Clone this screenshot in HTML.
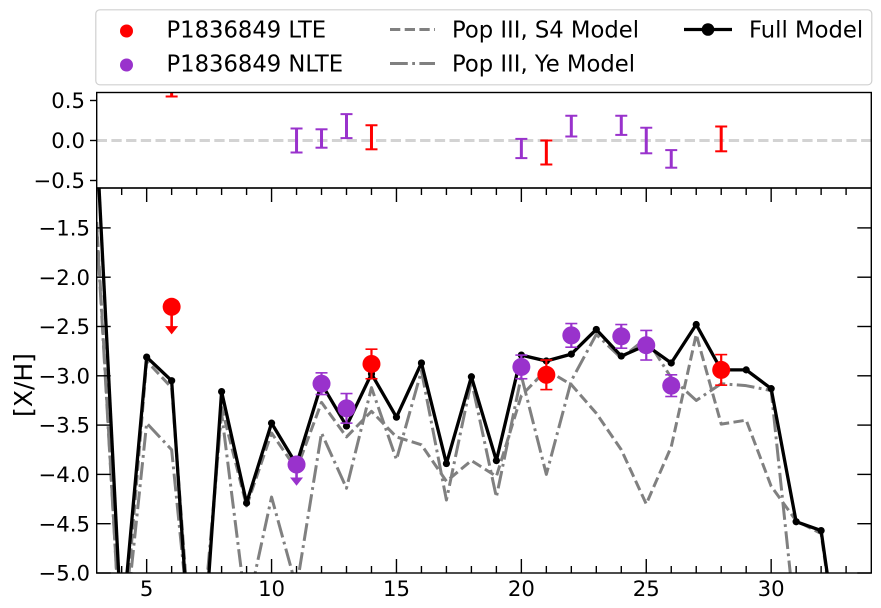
<!DOCTYPE html>
<html lang="en">
<head>
<meta charset="utf-8">
<title>P1836849 abundances</title>
<style>
html,body{margin:0;padding:0;background:#fff;}
html,body{width:881px;height:608px;overflow:hidden;}
svg{display:block;font-family:"DejaVu Sans","Liberation Sans",sans-serif;}
</style>
</head>
<body>
<svg id="chart" xmlns="http://www.w3.org/2000/svg" width="881" height="608" viewBox="0 0 881 608">
  <defs>
    <clipPath id="clip-main"><rect x="96.7" y="188" width="774.6" height="385"/></clipPath>
    <clipPath id="clip-top"><rect x="96.7" y="92.5" width="774.6" height="95.5"/></clipPath>
  </defs>
  <rect x="0" y="0" width="881" height="608" fill="#fff"/>
  <g id="main-marks" clip-path="url(#clip-main)"></g>
  <g id="main-ticks"></g>
  <g id="top-marks" clip-path="url(#clip-top)"></g>
  <g id="top-ticks"></g>
  <rect x="96.7" y="92.5" width="774.6" height="95.5" fill="none" stroke="#000" stroke-width="1.4"/>
  <rect x="96.7" y="188" width="774.6" height="385" fill="none" stroke="#000" stroke-width="1.4"/>
  <text x="32" y="385" font-size="25" text-anchor="middle" transform="rotate(-90 32 385)">[X/H]</text>

  <g>
    <rect x="95.8" y="9.8" width="776" height="75" rx="4" ry="4" fill="#fff" stroke="#d0d0d0" stroke-width="1.2"/>
    <g>
      <circle cx="126.5" cy="31" r="6.5" fill="#ff0000"/>
      <text x="166.5" y="37.5" font-size="22.7">P1836849 LTE</text>
    </g>
    <g>
      <circle cx="126.5" cy="65" r="6.5" fill="#9932cc"/>
      <text x="166.5" y="71.5" font-size="22.7">P1836849 NLTE</text>
    </g>
    <g>
      <line x1="390" y1="29.5" x2="435" y2="29.5" stroke="#808080" stroke-width="3" stroke-dasharray="10.3 4.4"/>
      <text x="452" y="37.5" font-size="22.7">Pop III, S4 Model</text>
    </g>
    <g>
      <line x1="390" y1="63.5" x2="435" y2="63.5" stroke="#808080" stroke-width="3" stroke-dasharray="17.8 4.4 2.8 4.4"/>
      <text x="452" y="71.5" font-size="22.7">Pop III, Ye Model</text>
    </g>
    <g>
      <line x1="684" y1="29.5" x2="732" y2="29.5" stroke="#000" stroke-width="3.3"/>
      <circle cx="708" cy="29.5" r="6.3" fill="#000"/>
      <text x="749" y="37.5" font-size="22.7">Full Model</text>
    </g>
  </g>
</svg>

<script>
// Model series: atomic number and [X/H]
var modelZ = [3,4,5,6,7,8,9,10,11,12,13,14,15,16,17,18,19,20,21,22,23,24,25,26,27,28,29,30,31,32,33];
var fullModel = [-0.63,-5.6,-2.81,-3.05,-6.8,-3.16,-4.29,-3.48,-3.9,-3.08,-3.51,-2.98,-3.42,-2.87,-3.89,-3.01,-3.86,-2.79,-2.85,-2.78,-2.53,-2.80,-2.69,-2.87,-2.48,-2.94,-2.94,-3.13,-4.48,-4.57,-6.35];
var s4Model = [-1.44,-5.9,-2.85,-3.12,-6.5,-3.32,-4.32,-3.58,-3.95,-3.27,-3.62,-3.36,-3.62,-3.70,-4.07,-3.86,-4.02,-3.2,-2.94,-3.09,-3.38,-3.75,-4.3,-3.72,-2.58,-3.49,-3.45,-4.12,-4.47,-4.6,-6.4];
var yeModel = [-1.5,-5.9,-3.48,-3.75,-6.26,-3.38,-5.4,-4.23,-5.15,-3.58,-4.14,-3.12,-3.85,-2.95,-4.26,-3.05,-4.23,-3.0,-4.0,-3.05,-2.58,-2.82,-2.62,-3.02,-3.25,-3.08,-3.10,-3.15,-5.57,-7.0,-8.0];

// Observations
var lteZ = [14,21,28];
var lteValues = [-2.88,-2.99,-2.94];
var lteErrors = [0.15,0.15,0.155];
var lteLimitZ = [6];
var lteLimitValues = [-2.30];
var lteLimitLengths = [0.28];
var nlteZ = [12,13,20,22,24,25,26];
var nlteValues = [-3.08,-3.33,-2.91,-2.59,-2.60,-2.69,-3.10];
var nlteErrors = [0.11,0.15,0.12,0.12,0.12,0.15,0.11];
var nlteLimitZ = [11];
var nlteLimitValues = [-3.90];
var nlteLimitLengths = [0.215];

// Residual panel
var residLteZ = [6,14,21,28];
var residLteValues = [0.80,0.04,-0.15,0.02];
var residLteErrors = [0.25,0.15,0.15,0.155];
var residNlteZ = [11,12,13,20,22,24,25,26];
var residNlteValues = [0.0,0.025,0.18,-0.10,0.18,0.19,0.0,-0.23];
var residNlteErrors = [0.15,0.115,0.15,0.12,0.13,0.12,0.16,0.11];

// Tick labels
var xTickLabels = [5,10,15,20,25,30];
var xMinorTicks = [4,5,6,7,8,9,10,11,12,13,14,15,16,17,18,19,20,21,22,23,24,25,26,27,28,29,30,31,32,33];
var yMainTicks = [-5,-4.5,-4,-3.5,-3,-2.5,-2,-1.5];
var yTopTicks = [-0.5,0,0.5];

var NS = 'http://www.w3.org/2000/svg';
var RED = '#ff0000', PURPLE = '#9932cc', GRAY = '#808080';
var CUT_Y = 590; // segments are trimmed below the plot so no geometry leaves the frame
var mainMarks = document.getElementById('main-marks');
var mainTicks = document.getElementById('main-ticks');
var topMarks = document.getElementById('top-marks');
var topTicks = document.getElementById('top-ticks');

function xPos(z){ return 96.7 + (z - 3) * 24.98; }
function yMain(v){ return 573 - (v + 5) * 98.6; }
function yTop(v){ return 140.5 - v * 80; }
function fmt(v){ return (v < 0 ? '\u2212' : '') + Math.abs(v).toFixed(1); }

function drawLine(parent, x1, y1, x2, y2, color, width){
  var el = document.createElementNS(NS, 'line');
  el.setAttribute('x1', x1);
  el.setAttribute('y1', y1);
  el.setAttribute('x2', x2);
  el.setAttribute('y2', y2);
  el.setAttribute('stroke', color);
  el.setAttribute('stroke-width', width);
  parent.appendChild(el);
  return el;
}
// Draws one series as visible runs; each run keeps its dash phase via dashoffset.
function drawSeries(parent, zs, vs, color, width, dash){
  var g = document.createElementNS(NS, 'g');
  parent.appendChild(g);
  var travelled = 0, run = null;
  function flush(){
    if (run && run.pts.length > 1) {
      var el = document.createElementNS(NS, 'polyline');
      el.setAttribute('points', run.pts.join(' '));
      el.setAttribute('fill', 'none');
      el.setAttribute('stroke', color);
      el.setAttribute('stroke-width', width);
      el.setAttribute('stroke-linejoin', 'round');
      if (dash) {
        el.setAttribute('stroke-dasharray', dash);
        el.setAttribute('stroke-dashoffset', run.offset.toFixed(2));
      }
      g.appendChild(el);
    }
    run = null;
  }
  for (var i = 0; i < zs.length - 1; i++) {
    var x1 = xPos(zs[i]), y1 = yMain(vs[i]), x2 = xPos(zs[i + 1]), y2 = yMain(vs[i + 1]);
    var len = Math.sqrt((x2 - x1) * (x2 - x1) + (y2 - y1) * (y2 - y1));
    var t1 = 0, t2 = 1;
    if (y1 > CUT_Y && y2 > CUT_Y) { flush(); travelled += len; continue; }
    if (y1 > CUT_Y) { t1 = (CUT_Y - y1) / (y2 - y1); }
    if (y2 > CUT_Y) { t2 = (CUT_Y - y1) / (y2 - y1); }
    if (!run) {
      run = { pts: [(x1 + (x2 - x1) * t1).toFixed(2) + ',' + (y1 + (y2 - y1) * t1).toFixed(2)], offset: travelled + len * t1 };
    }
    run.pts.push((x1 + (x2 - x1) * t2).toFixed(2) + ',' + (y1 + (y2 - y1) * t2).toFixed(2));
    if (t2 < 1) { flush(); }
    travelled += len;
  }
  flush();
  return g;
}
function drawCircle(parent, cx, cy, r, color){
  var el = document.createElementNS(NS, 'circle');
  el.setAttribute('cx', cx);
  el.setAttribute('cy', cy);
  el.setAttribute('r', r);
  el.setAttribute('fill', color);
  parent.appendChild(el);
  return el;
}
function drawLabel(parent, x, y, str, anchor){
  var el = document.createElementNS(NS, 'text');
  el.setAttribute('x', x);
  el.setAttribute('y', y);
  el.setAttribute('font-size', '21.2');
  el.setAttribute('text-anchor', anchor);
  el.textContent = str;
  parent.appendChild(el);
  return el;
}
function drawErrorBar(parent, x, yLow, yHigh, color, lineW, capW){
  var g = document.createElementNS(NS, 'g');
  drawLine(g, x, yLow, x, yHigh, color, lineW);
  drawLine(g, x - 6, yLow, x + 6, yLow, color, capW);
  drawLine(g, x - 6, yHigh, x + 6, yHigh, color, capW);
  parent.appendChild(g);
  return g;
}
function drawLimit(parent, x, y, tipY, color){
  var g = document.createElementNS(NS, 'g');
  drawLine(g, x, y, x, tipY - 7, color, 2.6);
  var head = document.createElementNS(NS, 'polygon');
  head.setAttribute('points', (x - 6.5) + ',' + (tipY - 8.3) + ' ' + (x + 6.5) + ',' + (tipY - 8.3) + ' ' + x + ',' + tipY);
  head.setAttribute('fill', color);
  g.appendChild(head);
  drawCircle(g, x, y, 9, color);
  parent.appendChild(g);
  return g;
}

// Model lines
var s4Line = drawSeries(mainMarks, modelZ, s4Model, GRAY, 3, '10.3 4.4');


var yeLine = drawSeries(mainMarks, modelZ, yeModel, GRAY, 3, '17.8 4.4 2.8 4.4');


var fullLine = drawSeries(mainMarks, modelZ, fullModel, '#000', 3.3, null);


modelZ.forEach(function(z, i){
  if (yMain(fullModel[i]) > CUT_Y) { return; }
  var dot = drawCircle(mainMarks, xPos(z), yMain(fullModel[i]), 3.6, '#000');
  
  
});

// Observations, main panel
function drawObservations(zs, vs, es, color, label){
  zs.forEach(function(z, i){
    var x = xPos(z), y = yMain(vs[i]);
    var bar = drawErrorBar(mainMarks, x, yMain(vs[i] - es[i]), yMain(vs[i] + es[i]), color, 2.2, 1.6);
    
    
    var c = drawCircle(mainMarks, x, y, 9, color);
    
    
  });
}
nlteLimitZ.forEach(function(z, i){
  var lim = drawLimit(mainMarks, xPos(z), yMain(nlteLimitValues[i]), yMain(nlteLimitValues[i] - nlteLimitLengths[i]), PURPLE);
  
  
});
lteLimitZ.forEach(function(z, i){
  var lim = drawLimit(mainMarks, xPos(z), yMain(lteLimitValues[i]), yMain(lteLimitValues[i] - lteLimitLengths[i]), RED);
  
  
});
drawObservations(lteZ, lteValues, lteErrors, RED, 'lte');
drawObservations(nlteZ, nlteValues, nlteErrors, PURPLE, 'nlte');

// Residual panel
var zeroLine = drawLine(topMarks, 96.7, yTop(0), 871.3, yTop(0), '#d3d3d3', 3);
zeroLine.setAttribute('stroke-dasharray', '10.3 4.4');


function drawResiduals(zs, vs, es, color, label){
  zs.forEach(function(z, i){
    var bar = drawErrorBar(topMarks, xPos(z), yTop(vs[i] - es[i]), yTop(vs[i] + es[i]), color, 3, 2);
    
    
  });
}
drawResiduals(residLteZ, residLteValues, residLteErrors, RED, 'lte');
drawResiduals(residNlteZ, residNlteValues, residNlteErrors, PURPLE, 'nlte');

// Ticks: x axis minor/major, bottom and top of main panel
xMinorTicks.forEach(function(z){
  var major = xTickLabels.indexOf(z) >= 0;
  var len = major ? 14 : 7;
  var b = drawLine(mainTicks, xPos(z), 573, xPos(z), 573 - len, '#000', 1.4);
  
  
  var t = drawLine(mainTicks, xPos(z), 188, xPos(z), 188 + len, '#000', 1.4);
  
  
});
xTickLabels.forEach(function(z){
  var lab = drawLabel(mainTicks, xPos(z), 596, String(z), 'middle');
  
  
});
// Main panel y ticks
yMainTicks.forEach(function(v){
  var y = yMain(v);
  var l = drawLine(mainTicks, 96.7, y, 110.7, y, '#000', 1.4);
  
  
  var r = drawLine(mainTicks, 871.3, y, 857.3, y, '#000', 1.4);
  
  
  var lab = drawLabel(mainTicks, 90, y + 7.6, fmt(v), 'end');
  
  
});
// Residual panel y ticks
yTopTicks.forEach(function(v){
  var y = yTop(v);
  var l = drawLine(topTicks, 96.7, y, 90, y, '#000', 1.4);
  
  
  var lab = drawLabel(topTicks, 85, y + 7.6, fmt(v), 'end');
  
  
});
</script>
</body>
</html>
